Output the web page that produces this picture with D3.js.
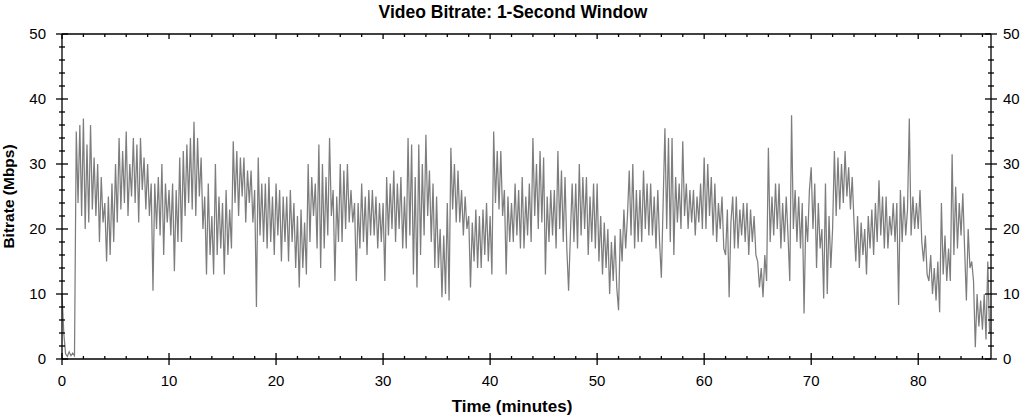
<!DOCTYPE html>
<html>
<head>
<meta charset="utf-8">
<script src="https://cdn.jsdelivr.net/npm/d3@7"></script>
<style>
  body { margin: 0; background: #fff; }
  svg text { font-family: "Liberation Sans", Arial, sans-serif; fill: #000; }
</style>
</head>
<body>
<div id="chart"></div>
<script>
// bitrate in Mbps, one value every 10 s (6 per minute)
var stepMin = 1 / 6;
var bitrate = [
  10, 4, 0.8, 0.4, 1.1, 0.5,      0.9, 0.5, 35, 24, 36, 22,      37, 20, 33, 21, 36, 23,
  31, 22, 30, 18, 28, 21,         24, 15, 25, 16, 27, 18,        30, 21, 34, 23, 32, 24,
  35, 22, 30, 25, 34, 24,         33, 21, 34, 26, 31, 23,        30, 22, 27, 10.5, 27, 20,
  28, 19, 30, 16, 27, 21,         26, 19, 27, 13.5, 26, 18,      31, 18, 32, 22, 33, 24,
  34, 23, 36.5, 22, 34, 25,       31, 20, 25, 13, 27, 16,        22, 13, 30, 16, 25, 17,
  24, 13, 26, 16, 23, 17,         33.5, 24, 32, 22, 31, 25,      31, 21, 29, 24, 29, 21,
  26, 8, 31, 19, 27, 18,          27, 17, 28, 18, 25, 16,        27, 19, 26, 15, 25, 18,
  25, 15, 26, 18, 24, 14,         22, 11, 23, 14, 21, 13,        30, 18, 28, 22, 27, 17,
  33, 14, 30, 17, 28, 19,         34, 22, 26, 12, 25, 18,        30, 18, 29, 20, 30, 21,
  26, 21, 24, 12, 24, 17,         27, 18, 25, 16, 26, 19,        26, 19, 25, 17, 24, 18,
  24, 12, 28, 19, 27, 20,         29, 18, 27, 20, 28, 17,        25, 17, 34, 19, 33, 13,
  28, 11, 33, 16, 30, 19,         34.5, 22, 29, 18, 27, 14,      25, 14, 20, 9.5, 19, 10,
  24, 9, 32.5, 23, 30, 21,        29, 21, 26, 19, 25, 20,        22, 11, 21, 15, 23, 14,
  22, 14, 23, 16, 24, 15,         22, 13, 35, 24, 32, 23,        32, 22, 26, 13, 25, 18,
  24, 18, 27, 19, 26, 17,         28, 17, 25, 19, 27, 18,        34, 22, 30, 20, 32, 21,
  31, 13, 25, 18, 26, 19,         26, 17, 32, 20, 29, 18,        28, 17, 10.5, 19, 27, 18,
  27, 17, 30, 19, 28, 20,         28, 16, 25, 18, 27, 17,        27, 15, 22, 13, 21, 14,
  20, 10, 18, 12, 19, 11,         7.5, 20, 15, 23, 17, 22,       29, 19, 30, 17, 26, 18,
  26, 18, 29, 20, 27, 19,         27, 19, 25, 17, 26, 18,        12.5, 24, 35.5, 20, 34, 18,
  34, 16, 28, 21, 27, 20,         33.5, 22, 27, 20, 26, 21,      26, 19, 25, 21, 27, 20,
  31, 20, 30, 22, 28, 19,         27, 18, 24, 20, 25, 17,        16, 23, 9.5, 21, 25, 17,
  25, 17, 23, 19, 24, 18,         24, 16, 23, 18, 22, 16,        15, 11, 14, 9.5, 16, 12,
  32.5, 18, 25, 19, 27, 20,       27, 17, 24, 18, 25, 19,        12, 37.5, 20, 26, 18, 25,
  17, 24, 7, 22, 18, 26,          29.5, 20, 27, 14, 24, 17,      20, 9.3, 27, 10, 22, 14,
  20, 32, 22, 31, 23, 30,         24, 32, 25, 29.5, 23, 28,      21, 15, 22, 14, 21, 16,
  20, 13, 22, 17, 23, 16,         24, 18, 27.5, 19, 25, 17,      25, 17, 22, 19, 24, 18,
  24, 8.3, 26, 18, 25, 19,        23, 37, 19, 25, 20, 24,        20, 26, 18, 15, 19, 13,
  12, 16, 10, 14, 9, 15,          7.2, 24, 13, 19, 12, 17,       12, 31.5, 16, 26.5, 17, 24,
  19, 25.5, 17, 9, 20, 14,        15, 12, 1.8, 10, 5, 9,         4.5, 10, 3, 15, 4
];
var xTicks = [0, 10, 20, 30, 40, 50, 60, 70, 80];
var yTicks = [0, 10, 20, 30, 40, 50];
var titleText = "Video Bitrate: 1-Second Window";
var xLabel = "Time (minutes)";
var yLabel = "Bitrate (Mbps)";

var width = 1030,
    height = 417,
    margin = {top: 34, right: 39, bottom: 58, left: 62},
    xMax = 86.8;

var svg = d3.select("#chart").append("svg")
    .attr("width", width)
    .attr("height", height);

var x = d3.scaleLinear()
    .domain([0, xMax])
    .range([margin.left, width - margin.right]);

var y = d3.scaleLinear()
    .domain([0, 50])
    .range([height - margin.bottom, margin.top]);

var minorX = d3.range(0, 87, 2),
    minorY = d3.range(0, 51, 2);

// data line
var line = d3.line()
    .x(function(d, i) { return x(i * stepMin); })
    .y(function(d) { return y(d); });

svg.append("path")
    .datum(bitrate)
    .attr("d", line)
    .style("fill", "none")
    .style("stroke", "#7d7d7d")
    .style("stroke-width", 1.25);

// frame
var g = svg.append("g").attr("stroke", "#000").attr("stroke-width", 1.3);
g.append("line").attr("x1", x(0)).attr("x2", x(xMax)).attr("y1", y(0)).attr("y2", y(0));
g.append("line").attr("x1", x(0)).attr("x2", x(xMax)).attr("y1", y(50)).attr("y2", y(50));
g.append("line").attr("x1", x(0)).attr("x2", x(0)).attr("y1", y(0)).attr("y2", y(50));
g.append("line").attr("x1", x(xMax)).attr("x2", x(xMax)).attr("y1", y(0)).attr("y2", y(50));

// y ticks both sides (crossing the axis)
minorY.forEach(function(v) {
  var len = (v % 10 === 0) ? 6 : 3;
  g.append("line").attr("x1", x(0) - len).attr("x2", x(0) + len).attr("y1", y(v)).attr("y2", y(v));
  g.append("line").attr("x1", x(xMax) - len).attr("x2", x(xMax) + len).attr("y1", y(v)).attr("y2", y(v));
});

// x ticks bottom and top
minorX.forEach(function(v) {
  var major = v % 10 === 0;
  g.append("line").attr("x1", x(v)).attr("x2", x(v))
    .attr("y1", y(0) - (major ? 6 : 3)).attr("y2", y(0) + (major ? 6 : 0));
  g.append("line").attr("x1", x(v)).attr("x2", x(v))
    .attr("y1", y(50)).attr("y2", y(50) + (major ? 5 : 3));
});

// tick labels
svg.selectAll(".yl").data(yTicks).enter().append("text")
    .attr("x", x(0) - 16).attr("y", function(d) { return y(d) + 5; })
    .attr("text-anchor", "end").style("font-size", "15px")
    .text(function(d) { return d; });

svg.selectAll(".yr").data(yTicks).enter().append("text")
    .attr("x", x(xMax) + 12).attr("y", function(d) { return y(d) + 5; })
    .attr("text-anchor", "start").style("font-size", "15px")
    .text(function(d) { return d; });

svg.selectAll(".xl").data(xTicks).enter().append("text")
    .attr("x", function(d) { return x(d); }).attr("y", y(0) + 27)
    .attr("text-anchor", "middle").style("font-size", "15px")
    .text(function(d) { return d; });

// titles
svg.append("text")
    .attr("x", 513).attr("y", 18)
    .attr("text-anchor", "middle")
    .style("font-size", "17.5px").style("font-weight", "bold")
    .text(titleText);

svg.append("text")
    .attr("x", 512).attr("y", 412)
    .attr("text-anchor", "middle")
    .style("font-size", "17px").style("font-weight", "bold")
    .text(xLabel);

svg.append("text")
    .attr("transform", "translate(14," + ((y(0) + y(50)) / 2) + ") rotate(-90)")
    .attr("text-anchor", "middle")
    .style("font-size", "15.5px").style("font-weight", "bold")
    .text(yLabel);
</script>
</body>
</html>
